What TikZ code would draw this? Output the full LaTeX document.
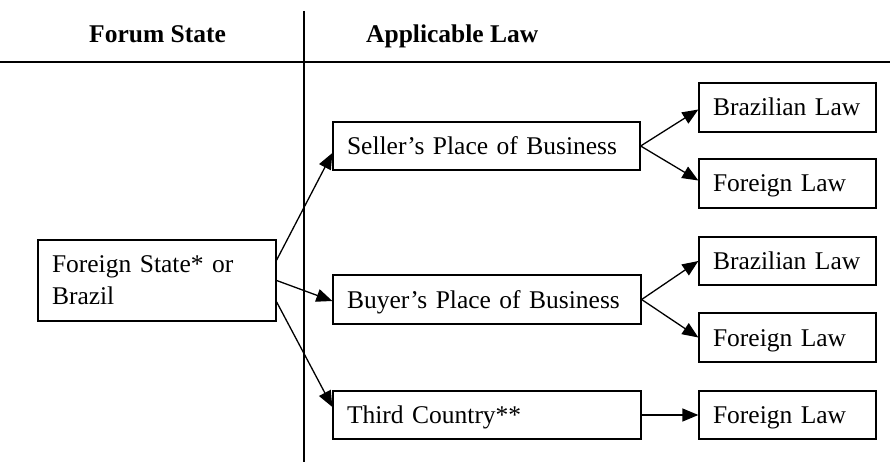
\documentclass[tikz,border=0pt]{standalone}
\usepackage{fontspec}
\setmainfont{Liberation Serif}
\usetikzlibrary{arrows.meta}
\begin{document}
\begin{tikzpicture}[x=1pt,y=-1pt,
  every node/.style={font=\fontsize{25.5}{32}\selectfont},
  box/.style={draw, line width=1.3pt, rectangle, inner xsep=14pt, inner ysep=0pt, align=left},
  onebox/.style={box, text height=17pt, text depth=0pt, minimum height=#1},
  head/.style={anchor=base west, inner sep=0pt, font=\fontsize{25.5}{32}\selectfont\bfseries},
  conn/.style={line width=1.3pt, -{Triangle[length=16pt,width=13pt]}},
  rule/.style={line width=1.3pt}
]
\useasboundingbox (0,0) rectangle (890,462);

% headers and rules
\node[head] (hfs) at (89,43) {Forum State};
\node[head] (hal) at (366,43) {Applicable Law};
\coordinate (hl) at (0,62);
\coordinate (hr) at (890,62);
\coordinate (vt) at (304,11);
\coordinate (vb) at (304,462);
\draw[rule] (hl) -- (hr);
\draw[rule] (vt) -- (vb);

% left box
\node[box, text width=210pt, minimum height=81pt] (fs) at (157,280.5) {Foreign State* or\\Brazil};

% middle boxes
\node[onebox=48pt, text width=279pt] (seller) at (486.5,146) {Seller’s Place of Business};
\node[onebox=49pt, text width=280pt] (buyer) at (487,299.5) {Buyer’s Place of Business};
\node[onebox=48pt, text width=280pt] (third) at (487,415) {Third Country**};

% right boxes
\node[onebox=49pt, text width=149pt] (bl1) at (787.5,107.5) {Brazilian Law};
\node[onebox=49pt, text width=149pt] (fl1) at (787.5,183.5) {Foreign Law};
\node[onebox=48pt, text width=149pt] (bl2) at (787.5,261) {Brazilian Law};
\node[onebox=49pt, text width=149pt] (fl2) at (787.5,337.5) {Foreign Law};
\node[onebox=48pt, text width=149pt] (fl3) at (787.5,415) {Foreign Law};

% connectors
\draw[conn] ([yshift=20.5pt]fs.east) -- ([yshift=-7pt]seller.west);
\draw[conn] (fs.east) -- ([yshift=-1.5pt]buyer.west);
\draw[conn] ([yshift=-21.5pt]fs.east) -- ([yshift=8pt]third.west);

\draw[conn] (seller.east) -- ([yshift=-2pt]bl1.west);
\draw[conn] (seller.east) -- ([yshift=3pt]fl1.west);
\draw[conn] (buyer.east) -- (bl2.west);
\draw[conn] (buyer.east) -- (fl2.west);
\draw[conn] (third.east) -- (fl3.west);
\end{tikzpicture}
\end{document}
